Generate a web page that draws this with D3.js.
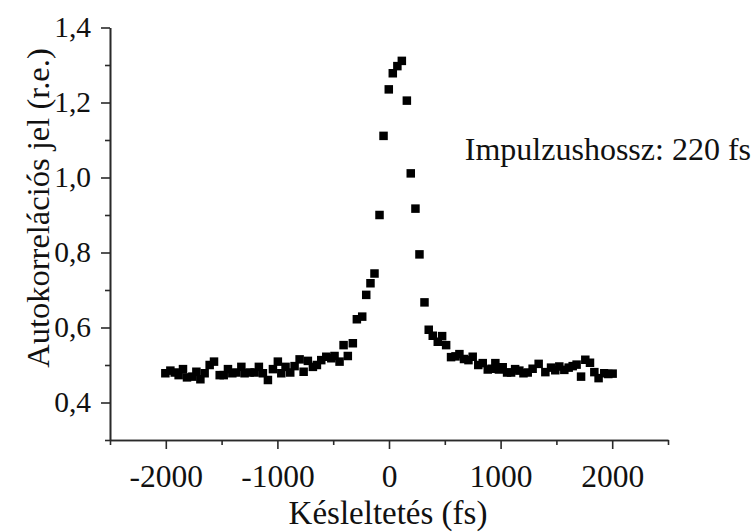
<!DOCTYPE html>
<html>
<head>
<meta charset="utf-8">
<script src="https://cdn.jsdelivr.net/npm/d3@7/dist/d3.min.js"></script>
<style>
  html, body { margin: 0; padding: 0; background: #fff; }
  svg { display: block; }
  text { font-family: "Liberation Serif", "DejaVu Serif", serif; fill: #111; }
</style>
</head>
<body>
<svg id="chart" width="756" height="532"></svg>
<script>
// Delay (fs)
const delays = [
  -2004, -1959, -1920, -1885, -1846, -1810, -1762, -1726, -1690, -1652,
  -1607, -1568, -1517, -1481, -1443, -1404, -1368, -1323, -1294, -1249,
  -1204, -1166, -1130, -1085, -1040, -996, -965, -927, -885, -846,
  -801, -765, -727, -682, -646, -607, -562, -517, -488, -443,
  -407, -369, -324, -288, -240, -204, -166, -130, -85, -49,
  -2, 34, 75, 115, 160, 195, 237, 273, 318, 356,
  392, 437, 476, 512, 556, 596, 631, 672, 712, 750,
  800, 840, 885, 920, 953, 985, 1019, 1058, 1094, 1130,
  1168, 1205, 1243, 1287, 1341, 1401, 1452, 1490, 1526, 1571,
  1610, 1646, 1681, 1721, 1759, 1801, 1840, 1878, 1929, 1965, 2004
];
// Autocorrelation signal (r.e.)
const signal = [
  0.478, 0.485, 0.480, 0.473, 0.489, 0.467, 0.469, 0.482, 0.462, 0.478,
  0.500, 0.509, 0.473, 0.473, 0.489, 0.478, 0.480, 0.495, 0.478, 0.480,
  0.480, 0.495, 0.478, 0.460, 0.489, 0.509, 0.478, 0.495, 0.480, 0.497,
  0.515, 0.482, 0.511, 0.495, 0.500, 0.513, 0.522, 0.518, 0.524, 0.509,
  0.553, 0.524, 0.558, 0.622, 0.629, 0.687, 0.718, 0.744, 0.900, 1.111,
  1.235, 1.278, 1.297, 1.311, 1.205, 1.011, 0.917, 0.795, 0.667, 0.594,
  0.578, 0.562, 0.577, 0.553, 0.521, 0.523, 0.529, 0.516, 0.513, 0.522,
  0.500, 0.505, 0.488, 0.490, 0.505, 0.488, 0.494, 0.480, 0.480, 0.489,
  0.485, 0.478, 0.480, 0.490, 0.503, 0.481, 0.493, 0.486, 0.496, 0.487,
  0.493, 0.497, 0.501, 0.469, 0.514, 0.506, 0.481, 0.465, 0.478, 0.476, 0.477
];
const xMajorTicks = [-2000, -1000, 0, 1000, 2000];
const xMinorTicks = [-2500, -1500, -500, 500, 1500, 2500];
const yMajorTicks = [0.4, 0.6, 0.8, 1.0, 1.2, 1.4];
const yMinorTicks = [0.3, 0.5, 0.7, 0.9, 1.1, 1.3];
const xTitle = "Késleltetés (fs)";
const yTitle = "Autokorrelációs jel (r.e.)";
const annotation = "Impulzushossz: 220 fs";

const svg = d3.select("#chart");
const x = d3.scaleLinear().domain([-2500, 2500]).range([110, 668]);
const y = d3.scaleLinear().domain([0.3, 1.4]).range([440, 27.5]);

const fmtY = d => d3.format(".1f")(d).replace(".", ",");
const fmtX = d => String(d);
const axisColor = "#2a2a2a";

// X axis
const gx = svg.append("g").attr("transform", `translate(0,${y(0.3)})`);
gx.call(d3.axisBottom(x).tickValues(xMajorTicks).tickSize(9).tickPadding(16).tickFormat(fmtX).tickSizeOuter(0));
gx.append("g").call(d3.axisBottom(x).tickValues(xMinorTicks).tickSize(5).tickFormat("").tickSizeOuter(0));
gx.selectAll("text").attr("font-size", 31.5).style("font-family", '"Liberation Serif", serif').attr("fill", "#111");

// Y axis
const gy = svg.append("g").attr("transform", `translate(${x(-2500)},0)`);
gy.call(d3.axisLeft(y).tickValues(yMajorTicks).tickSize(9).tickPadding(10).tickFormat(fmtY).tickSizeOuter(0));
gy.append("g").call(d3.axisLeft(y).tickValues(yMinorTicks).tickSize(5).tickFormat("").tickSizeOuter(0));
gy.selectAll("text").attr("font-size", 29.5).style("font-family", '"Liberation Serif", serif').attr("fill", "#111");

svg.selectAll(".domain, .tick line").attr("stroke", axisColor).attr("stroke-width", 1.6);

// Points
const s = 8.5;
svg.append("g").selectAll("rect").data(delays.map((d, i) => [d, signal[i]]))
  .join("rect")
  .attr("x", d => x(d[0]) - s / 2)
  .attr("y", d => y(d[1]) - s / 2)
  .attr("width", s).attr("height", s)
  .attr("fill", "#000");

// Titles
svg.append("text").attr("x", 388).attr("y", 524).attr("text-anchor", "middle")
  .attr("font-size", 33).text(xTitle);
svg.append("text").attr("transform", "translate(49,208) rotate(-90)").attr("text-anchor", "middle")
  .attr("font-size", 32.5).text(yTitle);
svg.append("text").attr("x", 751).attr("y", 160).attr("text-anchor", "end")
  .attr("font-size", 32).text(annotation);
</script>
</body>
</html>
